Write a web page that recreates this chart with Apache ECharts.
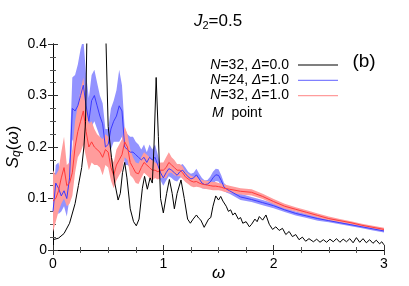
<!DOCTYPE html>
<html>
<head>
<meta charset="utf-8">
<script src="https://cdn.jsdelivr.net/npm/echarts@6/dist/echarts.min.js"></script>
<style>html,body{margin:0;padding:0;background:#fff}#c{width:409px;height:286px}</style>
</head>
<body>
<div id="c"></div>
<script>
// omega grid shared by N=24 and N=32 (Delta=1.0) curves
var omegaC = [0,0.025,0.05,0.075,0.1,0.125,0.15,0.175,0.2,0.225,0.25,0.275,0.3,0.325,0.35,0.375,0.4,0.425,0.45,0.475,0.5,0.525,0.55,0.575,0.6,0.625,0.65,0.675,0.7,0.725,0.75,0.775,0.8,0.825,0.85,0.875,0.9,0.925,0.95,0.975,1.0,1.025,1.05,1.075,1.1,1.125,1.15,1.175,1.2,1.225,1.25,1.275,1.3,1.325,1.35,1.375,1.4,1.425,1.45,1.475,1.5,1.525,1.55,1.575,1.6,1.7,1.8,1.9,2.0,2.1,2.2,2.3,2.4,2.5,2.6,2.7,2.8,2.9,3.0];
// N=24, Delta=1.0 : mean and error half-width
var blueMean = [0.075,0.13,0.12,0.105,0.115,0.10,0.14,0.275,0.27,0.28,0.30,0.32,0.28,0.25,0.29,0.30,0.28,0.26,0.245,0.20,0.205,0.235,0.25,0.26,0.28,0.27,0.20,0.195,0.19,0.19,0.185,0.18,0.175,0.18,0.17,0.18,0.175,0.18,0.165,0.15,0.14,0.15,0.158,0.155,0.15,0.145,0.152,0.155,0.148,0.142,0.138,0.14,0.146,0.138,0.13,0.127,0.128,0.132,0.14,0.146,0.145,0.135,0.122,0.118,0.115,0.103,0.098,0.092,0.086,0.078,0.071,0.066,0.061,0.057,0.053,0.049,0.045,0.041,0.037];
var blueErr = [0.025,0.035,0.05,0.03,0.03,0.035,0.04,0.06,0.07,0.08,0.09,0.09,0.06,0.045,0.05,0.05,0.045,0.04,0.04,0.035,0.03,0.04,0.04,0.05,0.07,0.05,0.035,0.03,0.03,0.03,0.025,0.025,0.02,0.025,0.02,0.025,0.02,0.025,0.02,0.015,0.015,0.015,0.015,0.015,0.015,0.012,0.012,0.012,0.012,0.01,0.01,0.01,0.012,0.01,0.01,0.008,0.008,0.01,0.012,0.012,0.012,0.01,0.008,0.007,0.006,0.006,0.005,0.005,0.005,0.004,0.004,0.004,0.004,0.003,0.003,0.003,0.003,0.003,0.003];
// N=32, Delta=1.0 : mean and error half-width
var redMean = [0.095,0.10,0.115,0.14,0.16,0.125,0.13,0.15,0.20,0.23,0.25,0.27,0.23,0.20,0.21,0.20,0.195,0.19,0.18,0.195,0.19,0.16,0.145,0.165,0.175,0.185,0.21,0.20,0.17,0.16,0.15,0.148,0.16,0.17,0.165,0.16,0.155,0.155,0.152,0.155,0.155,0.16,0.17,0.165,0.16,0.155,0.155,0.15,0.142,0.138,0.134,0.132,0.133,0.13,0.128,0.127,0.126,0.125,0.124,0.124,0.123,0.122,0.12,0.119,0.118,0.114,0.112,0.104,0.094,0.085,0.079,0.073,0.067,0.061,0.057,0.053,0.048,0.044,0.040];
var redErr = [0.06,0.045,0.04,0.05,0.06,0.04,0.04,0.045,0.05,0.05,0.06,0.065,0.05,0.045,0.04,0.035,0.03,0.03,0.035,0.03,0.03,0.025,0.025,0.03,0.03,0.03,0.03,0.025,0.025,0.02,0.02,0.02,0.02,0.02,0.02,0.02,0.02,0.015,0.015,0.015,0.015,0.02,0.02,0.015,0.015,0.012,0.012,0.012,0.01,0.01,0.01,0.01,0.01,0.008,0.008,0.008,0.008,0.008,0.008,0.008,0.007,0.007,0.007,0.007,0.007,0.006,0.006,0.005,0.005,0.005,0.004,0.004,0.004,0.004,0.003,0.003,0.003,0.003,0.003];
// N=32, Delta=0.0
var omegaK = [0,0.05,0.1,0.15,0.2,0.23,0.26,0.28,0.295,0.31,0.33,0.4,0.46,0.475,0.5,0.53,0.56,0.59,0.61,0.63,0.65,0.67,0.7,0.73,0.755,0.78,0.81,0.83,0.855,0.88,0.9,0.915,0.935,0.955,0.975,1.0,1.03,1.055,1.08,1.1,1.125,1.16,1.19,1.22,1.245,1.27,1.3,1.32,1.34,1.37,1.38,1.41,1.43,1.45,1.475,1.5,1.52,1.54,1.57,1.59,1.61,1.63,1.65,1.68,1.7,1.72,1.75,1.78,1.8,1.83,1.85,1.87,1.9,1.93,1.96,1.99,2.02,2.05,2.08,2.11,2.14,2.17,2.2,2.23,2.26,2.29,2.32,2.36,2.39,2.42,2.45,2.48,2.51,2.54,2.57,2.6,2.63,2.66,2.69,2.72,2.75,2.78,2.81,2.84,2.87,2.9,2.93,2.96,2.98,3.0];
var blackVal = [0.02,0.023,0.032,0.052,0.09,0.125,0.16,0.2,0.25,0.45,0.8,0.9,0.6,0.45,0.24,0.18,0.13,0.097,0.11,0.15,0.17,0.14,0.08,0.055,0.047,0.06,0.12,0.143,0.118,0.14,0.13,0.2,0.335,0.22,0.1,0.072,0.11,0.137,0.11,0.08,0.11,0.136,0.1,0.06,0.052,0.06,0.068,0.062,0.058,0.044,0.043,0.06,0.063,0.085,0.105,0.097,0.104,0.095,0.085,0.075,0.078,0.068,0.072,0.06,0.063,0.052,0.055,0.045,0.05,0.06,0.055,0.065,0.058,0.068,0.05,0.04,0.045,0.038,0.042,0.03,0.036,0.026,0.03,0.02,0.025,0.017,0.022,0.016,0.021,0.015,0.02,0.015,0.021,0.016,0.022,0.015,0.021,0.016,0.022,0.014,0.024,0.015,0.022,0.014,0.02,0.013,0.019,0.012,0.016,0.01];
var xTicks = [0,1,2,3];
var yTicks = [0,0.1,0.2,0.3,0.4];
var legendNames = ['N=32, \u0394=0.0','N=24, \u0394=1.0','N=32, \u0394=1.0'];

function pairs(xs, ys){ return xs.map(function(x,i){ return [x, ys[i]]; }); }
function bandData(xs, m, e){ return xs.map(function(x,i){ return [x, m[i]-e[i], m[i]+e[i]]; }); }

var FONT = 'Liberation Sans, Arial, sans-serif';
var chart = echarts.init(document.getElementById('c'), null, {renderer:'canvas'});
var axCommon = {
  type:'value', axisLine:{show:true, lineStyle:{color:'#000', width:1}},
  axisTick:{show:true, inside:true, length:5, lineStyle:{color:'#333'}},
  minorTick:{show:true, splitNumber:4, length:3, lineStyle:{color:'#555'}},
  splitLine:{show:false}
};
// band drawn as one polygon through the axis scales
function bandSeries(d, color){
  return {
    type:'custom', data:d, silent:true, z:1,
    encode:{x:0, y:[1,2]},
    renderItem:function(params, api){
      if (params.dataIndex !== 0) return null;
      var up = [], lo = [];
      for (var i = 0; i < d.length; i++){
        up.push(api.coord([d[i][0], d[i][2]]));
        lo.push(api.coord([d[i][0], d[i][1]]));
      }
      var pts = up.concat(lo.reverse());
      var cs = params.coordSys;
      return {type:'polygon', shape:{points:pts}, style:{fill:color, stroke:null},
        clipPath:{type:'rect', shape:{x:cs.x, y:cs.y, width:cs.width, height:cs.height}}};
    }
  };
}
var option = {
  animation:false,
  textStyle:{fontFamily:FONT},
  grid:{left:53, right:25, top:44, bottom:36, containLabel:false, outerBoundsMode:'none'},
  xAxis:[
    Object.assign({}, axCommon, {min:0, max:3, interval:1, position:'bottom',
      axisLabel:{show:true, color:'#000', fontSize:14, margin:7, fontFamily:FONT,
        formatter:function(v){ return xTicks.indexOf(v)>=0 ? String(v) : ''; }},
      name:'\u03c9', nameLocation:'middle', nameGap:15, nameMoveOverlap:false,
      nameTextStyle:{fontSize:17, fontStyle:'italic', color:'#000', fontFamily:FONT, verticalAlign:'top'}}),
    Object.assign({}, axCommon, {min:0, max:3, interval:1, position:'top', axisLabel:{show:false}})
  ],
  yAxis:[
    Object.assign({}, axCommon, {min:0, max:0.4, interval:0.1, position:'left',
      axisLabel:{show:true, color:'#000', fontSize:14, margin:6, fontFamily:FONT,
        formatter:function(v){ var r=Math.round(v*10)/10; return yTicks.indexOf(r)>=0 ? String(r) : ''; }},
      name:'{s|S}{q|q}{n|(}{w|\u03c9}{n|)}', nameLocation:'middle', nameGap:30, nameRotate:90, nameMoveOverlap:false,
      nameTextStyle:{color:'#000', fontFamily:FONT, fontSize:17,
        rich:{s:{fontSize:17, fontStyle:'italic', fontFamily:FONT},
              q:{fontSize:12, fontStyle:'italic', fontFamily:FONT, padding:[7,0,0,0]},
              n:{fontSize:17, fontFamily:FONT},
              w:{fontSize:17, fontStyle:'italic', fontFamily:FONT}}}}),
    Object.assign({}, axCommon, {min:0, max:0.4, interval:0.1, position:'right', axisLabel:{show:false}})
  ],
  legend:{
    data:legendNames, orient:'vertical', right:66, top:53, align:'right', icon:'rect',
    itemWidth:40, itemHeight:1.2, itemGap:1.3, selectedMode:false,
    textStyle:{fontSize:14, lineHeight:14, color:'#000', fontFamily:FONT, padding:[0,4,0,0],
      rich:{i:{fontStyle:'italic', fontSize:14, lineHeight:14, fontFamily:FONT}}},
    formatter:function(n){ return n.replace('N','{i|N}').replace('\u0394','{i|\u0394}'); }
  },
  graphic:[
    {type:'text', x:218, y:21, z:100, style:{text:'{j|J}{s|2}{t|=0.5}', align:'center', verticalAlign:'middle',
      fontSize:17, fontFamily:FONT, fill:'#000',
      rich:{j:{fontSize:17, fontStyle:'italic', fontFamily:FONT, fill:'#000'}, s:{fontSize:11, fontFamily:FONT, fill:'#000', padding:[9,0,0,0]}, t:{fontSize:17, fontFamily:FONT, fill:'#000'}}}},
    {type:'text', x:364, y:62, z:100, style:{text:'(b)', align:'center', verticalAlign:'middle', fontSize:19, fontFamily:FONT, fill:'#000'}},
    {type:'text', x:212, y:113, z:100, style:{text:'{i|M}{t|  point}', align:'left', verticalAlign:'middle', fontSize:14, fontFamily:FONT, fill:'#000',
      rich:{i:{fontSize:14, fontStyle:'italic', fontFamily:FONT, fill:'#000'}, t:{fontSize:14, fontFamily:FONT, fill:'#000'}}}}
  ],
  series:[
    bandSeries(bandData(omegaC, blueMean, blueErr), '#9393ff'),
    bandSeries(bandData(omegaC, redMean, redErr), '#ff9c9c'),
    {type:'line', name:legendNames[1], data:pairs(omegaC, blueMean), symbol:'none', lineStyle:{color:'#3b3bff', width:1}, itemStyle:{color:'#8080ff'}, z:3},
    {type:'line', name:legendNames[2], data:pairs(omegaC, redMean), symbol:'none', lineStyle:{color:'#ff3a3a', width:1}, itemStyle:{color:'#ff9c9c'}, z:3},
    {type:'line', name:legendNames[0], data:pairs(omegaK, blackVal), symbol:'none', lineStyle:{color:'#000', width:1}, itemStyle:{color:'#000'}, z:4}
  ]
};
chart.setOption(option);
</script>
</body>
</html>
